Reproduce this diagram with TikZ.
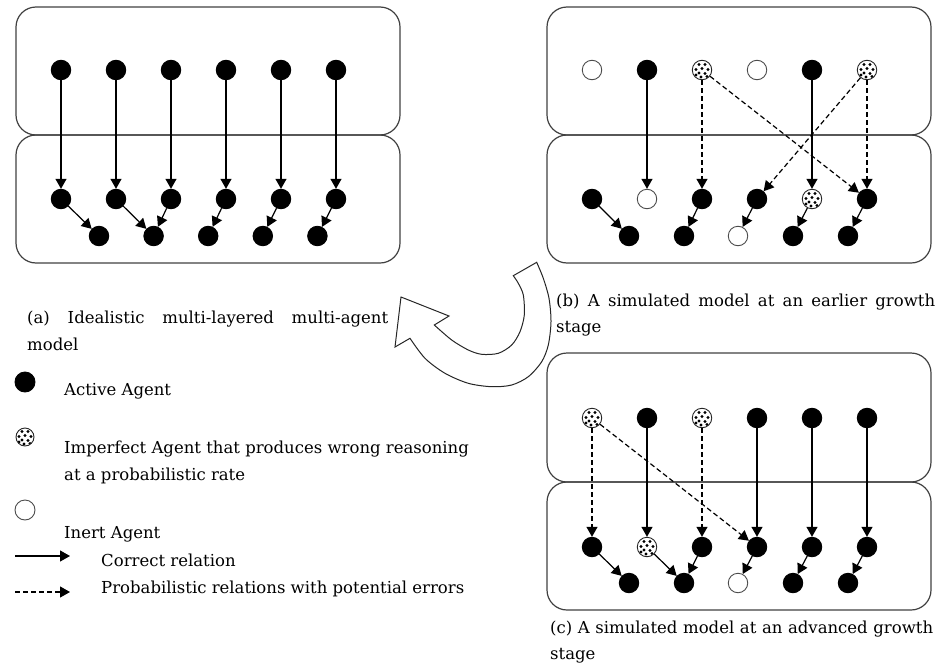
\documentclass[tikz,border=0pt]{standalone}
\usepackage{fontspec}
\setmainfont{DejaVu Serif}
\usetikzlibrary{arrows.meta,calc}
\tikzset{
  agent/.style={circle, draw=black, line width=0.9pt, minimum size=19.5pt, inner sep=0pt},
  act/.style={agent, fill=black},
  inert/.style={agent, fill=white, draw=black!70},
  imp/.style={agent, fill=white, draw=black!85, path picture={
      \foreach \dx/\dy in {-3/-5.5, 3/-5.5, -6/-0.5, 0/-1.5, 6/-0.5, -3/3, 3/3.5, -1/7, 5/6.5, -6/5}
        \fill[black] ($(path picture bounding box.center)+(\dx,\dy)$) circle (1.7);}},
  rel/.style={-{Triangle[length=10pt,width=11pt]}, line width=1.2pt, draw=black},
  prob/.style={rel, dash pattern=on 5pt off 3pt},
  layer/.style={draw=black!75, line width=1.2pt, rounded corners=20pt},
  txt/.style={inner sep=0pt, anchor=base west, font=\fontsize{16.5}{27}\selectfont},
}
\begin{document}
\begin{tikzpicture}[x=1pt, y=-1pt]
\useasboundingbox (0,0) rectangle (937,664);

% ---------------- panel (a)
\begin{scope}[shift={(16,7)}]
  \draw[layer] (0,0) rectangle (384,128);
  \draw[layer] (0,128) rectangle (384,256);
  \foreach \i in {1,...,6} {
    \node[act] (a-t\i) at ({45+55*(\i-1)},63) {};
    \node[act] (a-m\i) at ({45+55*(\i-1)},192) {};
  }
  \foreach \i in {1,...,5}
    \node[act] (a-b\i) at ({83+54.6*(\i-1)},229) {};
  \foreach \i in {1,...,6}
    \draw[rel] (a-t\i) -- (a-m\i);
  \draw[rel] (a-m1) -- (a-b1);
  \draw[rel] (a-m2) -- (a-b2);
  \draw[rel] (a-m3) -- (a-b2);
  \draw[rel] (a-m4) -- (a-b3);
  \draw[rel] (a-m5) -- (a-b4);
  \draw[rel] (a-m6) -- (a-b5);
\end{scope}

% ---------------- panel (b)
\begin{scope}[shift={(547,7)}]
  \draw[layer] (0,0) rectangle (384,128);
  \draw[layer] (0,128) rectangle (384,256);
  \node[inert] (b-t1) at (45,63) {};
  \node[act]   (b-t2) at (100,63) {};
  \node[imp]   (b-t3) at (155,63) {};
  \node[inert] (b-t4) at (210,63) {};
  \node[act]   (b-t5) at (265,63) {};
  \node[imp]   (b-t6) at (320,63) {};
  \node[act]   (b-m1) at (45,192) {};
  \node[inert] (b-m2) at (100,192) {};
  \node[act]   (b-m3) at (155,192) {};
  \node[act]   (b-m4) at (210,192) {};
  \node[imp]   (b-m5) at (265,192) {};
  \node[act]   (b-m6) at (320,192) {};
  \node[act]   (b-b1) at (82,229) {};
  \node[act]   (b-b2) at (137,229) {};
  \node[inert] (b-b3) at (191,229) {};
  \node[act]   (b-b4) at (246,229) {};
  \node[act]   (b-b5) at (301,229) {};
  \draw[rel]  (b-t2) -- (b-m2);
  \draw[prob] (b-t3) -- (b-m3);
  \draw[prob] (b-t3) -- (b-m6);
  \draw[rel]  (b-t5) -- (b-m5);
  \draw[prob] (b-t6) -- (b-m4);
  \draw[prob] (b-t6) -- (b-m6);
  \draw[rel] (b-m1) -- (b-b1);
  \draw[rel] (b-m3) -- (b-b2);
  \draw[rel] (b-m4) -- (b-b3);
  \draw[rel] (b-m5) -- (b-b4);
  \draw[rel] (b-m6) -- (b-b5);
\end{scope}

% ---------------- panel (c)
\begin{scope}[shift={(547,353)}]
  \draw[layer] (0,0) rectangle (384,129);
  \draw[layer] (0,129) rectangle (384,257);
  \node[imp]   (c-t1) at (45,65) {};
  \node[act]   (c-t2) at (100,65) {};
  \node[imp]   (c-t3) at (155,65) {};
  \node[act]   (c-t4) at (210,65) {};
  \node[act]   (c-t5) at (265,65) {};
  \node[act]   (c-t6) at (320,65) {};
  \node[act]   (c-m1) at (45,194) {};
  \node[imp]   (c-m2) at (100,194) {};
  \node[act]   (c-m3) at (155,194) {};
  \node[act]   (c-m4) at (210,194) {};
  \node[act]   (c-m5) at (265,194) {};
  \node[act]   (c-m6) at (320,194) {};
  \node[act]   (c-b1) at (82,230) {};
  \node[act]   (c-b2) at (137,230) {};
  \node[inert] (c-b3) at (191,230) {};
  \node[act]   (c-b4) at (246,230) {};
  \node[act]   (c-b5) at (301,230) {};
  \draw[prob] (c-t1) -- (c-m1);
  \draw[prob] (c-t1) -- (c-m4);
  \draw[rel]  (c-t2) -- (c-m2);
  \draw[prob] (c-t3) -- (c-m3);
  \draw[rel]  (c-t4) -- (c-m4);
  \draw[rel]  (c-t5) -- (c-m5);
  \draw[rel]  (c-t6) -- (c-m6);
  \draw[rel] (c-m1) -- (c-b1);
  \draw[rel] (c-m2) -- (c-b2);
  \draw[rel] (c-m3) -- (c-b2);
  \draw[rel] (c-m4) -- (c-b3);
  \draw[rel] (c-m5) -- (c-b4);
  \draw[rel] (c-m6) -- (c-b5);
\end{scope}

% ---------------- curved arrow
\draw[line width=1pt, draw=black!85, fill=white, line join=miter]
  plot[smooth] coordinates {(536.7,262.3) (543.3,278.3) (549,298.3) (551,321.7) (548.3,345) (541.7,361.7) (528.3,376.7) (511.7,385) (491.7,386.7) (468.3,383.3) (445,373.3) (425,358.3) (410,338.3)}
  -- (395,347) -- (401,297) -- (449,316) -- (434.3,325)
  -- plot[smooth] coordinates {(434.3,325) (451.7,340) (468.3,350) (481.7,354.3) (498.3,353.3) (511.7,345) (520,331.7) (524.3,315) (523.3,295) (518.3,283.3) (513.3,275.7)}
  -- cycle;

% ---------------- captions
\node[txt] (capa1) at (27,323) {\makebox[361pt][s]{(a) Idealistic multi-layered multi-agent}};
\node[txt] (capa2) at (27,350) {model};
\node[txt] (capb1) at (556,306) {\makebox[379pt][s]{(b) A simulated model at an earlier growth}};
\node[txt] (capb2) at (556,332) {stage};
\node[txt] (capc1) at (550,633) {\makebox[383pt][s]{(c) A simulated model at an advanced growth}};
\node[txt] (capc2) at (550,659) {stage};

% ---------------- legend
\node[act, minimum size=20pt] (leg-act) at (25,382) {};
\node[imp, minimum size=18pt] (leg-imp) at (25,437) {};
\node[inert, minimum size=20pt] (leg-inert) at (25,510) {};
\node[txt] (leg-act-t) at (64,395) {Active Agent};
\node[txt] (leg-imp-t1) at (64,453) {Imperfect Agent that produces wrong reasoning};
\node[txt] (leg-imp-t2) at (64,480) {at a probabilistic rate};
\node[txt] (leg-inert-t) at (64,538) {Inert Agent};
\coordinate (ls1) at (15,556);
\coordinate (ls2) at (70,556);
\coordinate (ld1) at (15,592);
\coordinate (ld2) at (70,592);
\draw[rel] (ls1) -- (ls2);
\draw[prob] (ld1) -- (ld2);
\node[txt] (leg-rel-t) at (101,566) {Correct relation};
\node[txt] (leg-prob-t) at (101,593) {Probabilistic relations with potential errors};
\end{tikzpicture}
\end{document}
